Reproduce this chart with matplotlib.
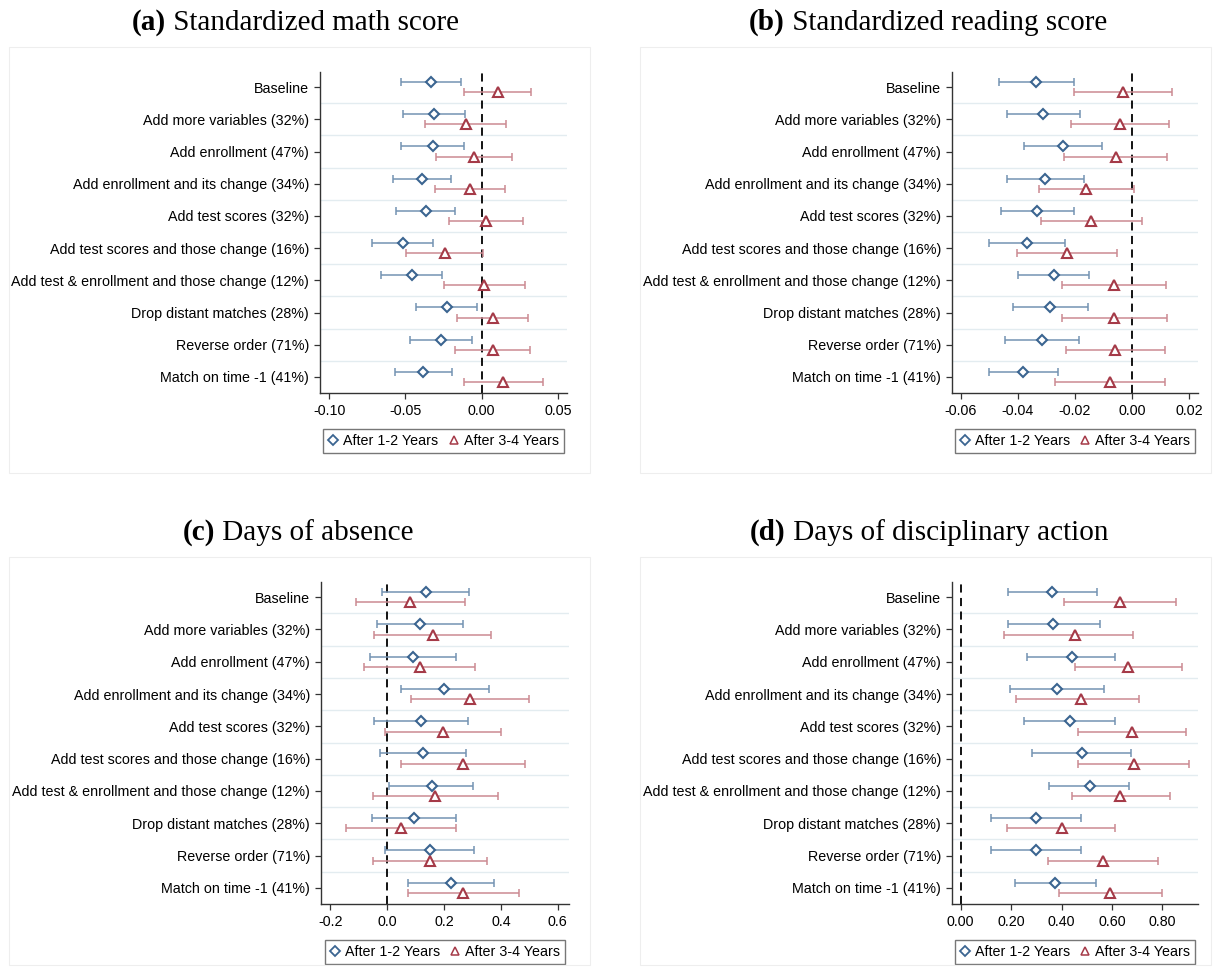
import numpy as np
import matplotlib
matplotlib.use('Agg')
from matplotlib import pyplot as plt
from matplotlib.lines import Line2D
from matplotlib.patches import Rectangle

plt.rcParams['font.family'] = ['Liberation Sans', 'DejaVu Sans']
plt.rcParams['axes.unicode_minus'] = False

labels = ["Baseline", "Add more variables (32%)", "Add enrollment (47%)",
          "Add enrollment and its change (34%)", "Add test scores (32%)",
          "Add test scores and those change (16%)",
          "Add test & enrollment and those change (12%)",
          "Drop distant matches (28%)", "Reverse order (71%)",
          "Match on time -1 (41%)"]

# (a) math
math_b12 = [-0.0329, -0.0314, -0.0320, -0.0390, -0.0368, -0.0515, -0.0458, -0.0230, -0.0268, -0.0384]
math_lo12 = [-0.0531, -0.0518, -0.0526, -0.0579, -0.0561, -0.0719, -0.0662, -0.0432, -0.0471, -0.0570]
math_hi12 = [-0.0134, -0.0107, -0.0116, -0.0202, -0.0175, -0.0318, -0.0259, -0.0029, -0.0066, -0.0197]
math_b34 = [0.0107, -0.0105, -0.0048, -0.0079, 0.0031, -0.0241, 0.0018, 0.0072, 0.0072, 0.0140]
math_lo34 = [-0.0114, -0.0371, -0.0296, -0.0309, -0.0215, -0.0496, -0.0248, -0.0162, -0.0175, -0.0118]
math_hi34 = [0.0327, 0.0158, 0.0202, 0.0151, 0.0274, 0.0009, 0.0285, 0.0307, 0.0320, 0.0401]

# (b) reading
read_b12 = [-0.0335, -0.0311, -0.0243, -0.0305, -0.0332, -0.0367, -0.0275, -0.0287, -0.0315, -0.0381]
read_lo12 = [-0.0465, -0.0438, -0.0380, -0.0438, -0.0460, -0.0500, -0.0400, -0.0419, -0.0444, -0.0503]
read_hi12 = [-0.0204, -0.0183, -0.0106, -0.0170, -0.0203, -0.0234, -0.0150, -0.0156, -0.0186, -0.0259]
read_b34 = [-0.0031, -0.0043, -0.0058, -0.0162, -0.0143, -0.0228, -0.0064, -0.0062, -0.0059, -0.0077]
read_lo34 = [-0.0202, -0.0214, -0.0239, -0.0327, -0.0320, -0.0402, -0.0247, -0.0245, -0.0233, -0.0269]
read_hi34 = [0.0140, 0.0129, 0.0122, 0.0005, 0.0035, -0.0054, 0.0120, 0.0122, 0.0114, 0.0115]

# (c) absence
abs_b12 = [0.136, 0.116, 0.090, 0.201, 0.119, 0.126, 0.157, 0.095, 0.152, 0.225]
abs_lo12 = [-0.018, -0.037, -0.061, 0.048, -0.047, -0.027, 0.008, -0.053, -0.006, 0.073]
abs_hi12 = [0.289, 0.268, 0.241, 0.357, 0.284, 0.277, 0.303, 0.242, 0.306, 0.375]
abs_b34 = [0.082, 0.160, 0.115, 0.291, 0.195, 0.267, 0.170, 0.048, 0.150, 0.268]
abs_lo34 = [-0.111, -0.046, -0.080, 0.085, -0.009, 0.049, -0.050, -0.146, -0.050, 0.073]
abs_hi34 = [0.275, 0.367, 0.310, 0.499, 0.400, 0.485, 0.391, 0.243, 0.351, 0.464]

# (d) disciplinary
disc_b12 = [0.363, 0.368, 0.440, 0.383, 0.433, 0.482, 0.512, 0.297, 0.298, 0.375]
disc_lo12 = [0.186, 0.187, 0.265, 0.195, 0.253, 0.285, 0.352, 0.120, 0.120, 0.214]
disc_hi12 = [0.539, 0.551, 0.611, 0.569, 0.611, 0.677, 0.668, 0.477, 0.479, 0.536]
disc_b34 = [0.632, 0.453, 0.665, 0.479, 0.679, 0.688, 0.632, 0.400, 0.565, 0.594]
disc_lo34 = [0.411, 0.172, 0.454, 0.219, 0.465, 0.467, 0.440, 0.185, 0.347, 0.391]
disc_hi34 = [0.855, 0.685, 0.878, 0.706, 0.892, 0.907, 0.829, 0.614, 0.784, 0.800]

BLUE = "#3b6591"
BLUE_BAR = "#7493b3"
RED = "#a53a48"
RED_BAR = "#cc8a92"
W, H = 1213, 967
FS = 10.3


def px_axes(fig, left, top, right, bottom):
    return fig.add_axes([left / W, 1 - bottom / H, (right - left) / W, (bottom - top) / H])


def panel(ax, b12, lo12, hi12, b34, lo34, hi34, xlim, xticks, fmt):
    rows = np.arange(1, len(labels) + 1)
    y12 = rows - 0.16
    y34 = rows + 0.16
    for r in rows[:-1]:
        ax.axhline(r + 0.5, color="#e3ecf0", lw=1.0, zorder=0)
    ax.axvline(0, color="black", ls=(0, (4.5, 3)), lw=1.3, zorder=1)
    b12, b34 = np.array(b12), np.array(b34)
    ax.errorbar(b12, y12, xerr=[b12 - np.array(lo12), np.array(hi12) - b12], fmt="none",
                ecolor=BLUE_BAR, elinewidth=1.1, capsize=3, capthick=1.1, zorder=2)
    ax.errorbar(b34, y34, xerr=[b34 - np.array(lo34), np.array(hi34) - b34], fmt="none",
                ecolor=RED_BAR, elinewidth=1.1, capsize=3, capthick=1.1, zorder=2)
    ax.plot(b12, y12, ls="none", marker="D", ms=5.4, mfc="white", mec=BLUE, mew=1.5, zorder=3)
    ax.plot(b34, y34, ls="none", marker="^", ms=6.5, mfc="white", mec=RED, mew=1.5, zorder=3)
    ax.set_xlim(*xlim)
    ax.set_ylim(10.5, 0.53)
    ax.set_yticks(rows)
    ax.set_yticklabels(labels)
    ax.set_xticks(xticks)
    ax.set_xticklabels([fmt.format(v) for v in xticks])
    ax.tick_params(axis="both", labelsize=FS, length=4, width=0.9, color="#333333", pad=4)
    for s in ("top", "right"):
        ax.spines[s].set_visible(False)
    for s in ("left", "bottom"):
        ax.spines[s].set_linewidth(1.0)
        ax.spines[s].set_color("#333333")
    handles = [Line2D([], [], ls="none", marker="D", ms=5, mfc="white", mec=BLUE, mew=1.3),
               Line2D([], [], ls="none", marker="^", ms=5.5, mfc="white", mec=RED, mew=1.1)]
    leg = ax.legend(handles, ["After 1-2 Years", "After 3-4 Years"], loc="center",
                    bbox_to_anchor=(0.5, -0.148), ncol=2, fontsize=FS, frameon=True,
                    fancybox=False, handlelength=0.7, handletextpad=0.35,
                    columnspacing=0.75, borderpad=0.35, borderaxespad=0)
    leg.get_frame().set_edgecolor("#555555")
    leg.get_frame().set_linewidth(1.0)


def title(fig, x, y, tag, text):
    t = fig.text(x / W, 1 - y / H, tag, fontsize=21, fontweight="bold",
                 family="Liberation Serif", va="baseline", ha="left")
    fig.canvas.draw()
    bb = t.get_window_extent()
    fig.text(bb.x1 / W, 1 - y / H, " " + text, fontsize=21,
             family="Liberation Serif", va="baseline", ha="left")


fig = plt.figure(figsize=(W / 100, H / 100), dpi=100)

for (l, t, r, b) in [(9, 47, 590, 473), (640, 47, 1211, 473),
                     (9, 557, 590, 965), (640, 557, 1211, 965)]:
    fig.patches.append(Rectangle((l / W, 1 - b / H), (r - l) / W, (b - t) / H,
                                 transform=fig.transFigure, fill=False,
                                 edgecolor="#eeeeee", lw=0.8))

ax_a = px_axes(fig, 320, 72, 567, 393)
panel(ax_a, math_b12, math_lo12, math_hi12, math_b34, math_lo34, math_hi34,
      (-0.106, 0.056), [-0.10, -0.05, 0.00, 0.05], "{:.2f}")
ax_b = px_axes(fig, 952, 72, 1198, 393)
panel(ax_b, read_b12, read_lo12, read_hi12, read_b34, read_lo34, read_hi34,
      (-0.0631, 0.0231), [-0.06, -0.04, -0.02, 0.00, 0.02], "{:.2f}")
ax_c = px_axes(fig, 321, 582, 569, 904)
panel(ax_c, abs_b12, abs_lo12, abs_hi12, abs_b34, abs_lo34, abs_hi34,
      (-0.233, 0.64), [-0.2, 0.0, 0.2, 0.4, 0.6], "{:.1f}")
ax_d = px_axes(fig, 952, 582, 1198, 904)
panel(ax_d, disc_b12, disc_lo12, disc_hi12, disc_b34, disc_lo34, disc_hi34,
      (-0.034, 0.941), [0.0, 0.2, 0.4, 0.6, 0.8], "{:.2f}")

title(fig, 132, 30, "(a)", "Standardized math score")
title(fig, 749, 30, "(b)", "Standardized reading score")
title(fig, 183, 540, "(c)", "Days of absence")
title(fig, 750, 540, "(d)", "Days of disciplinary action")

fig.savefig("out.png", dpi=100)
